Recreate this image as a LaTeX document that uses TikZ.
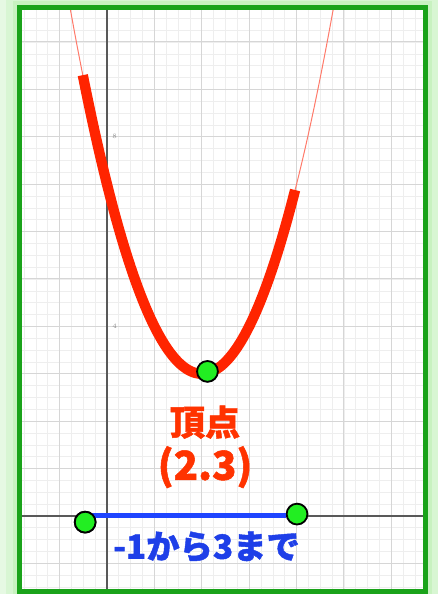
\documentclass[tikz,border=0pt]{standalone}
\usepackage{fontspec}
\usepackage{xcolor}
\newfontfamily\jpfont{Noto Sans CJK JP}[BoldFeatures={FakeBold=1.3}]
\usetikzlibrary{positioning}

\definecolor{framegreen}{HTML}{1AA31A}
\definecolor{glowgreen}{HTML}{C8F2C0}
\definecolor{dotgreen}{HTML}{22EE22}
\definecolor{majgray}{HTML}{D6D6D6}
\definecolor{mingray}{HTML}{EEEEEE}
\definecolor{curvered}{HTML}{FF2400}
\definecolor{thinred}{HTML}{FF7A6A}
\definecolor{labelred}{HTML}{FF3300}
\definecolor{segblue}{HTML}{1F45FF}
\definecolor{labelblue}{HTML}{1E3FE8}

\begin{document}
\begin{tikzpicture}[x=1cm,y=1cm,
	dot/.style={circle,draw=black,line width=1.1pt,fill=dotgreen,inner sep=0pt,minimum size=12.5pt},
	thickcurve/.style={curvered,line width=6.2pt,line cap=butt},
	thincurve/.style={thinred,line width=0.6pt},
	segline/.style={segblue,line width=3pt},
	axisline/.style={black!65,line width=0.9pt},
	ticklbl/.style={text=black!45,font=\fontsize{4}{4}\selectfont,inner sep=0pt}]
	\useasboundingbox (-2.257,-1.646) rectangle (6.983,10.886);
	% glow round the frame
	\fill[glowgreen!45] (-2.257,-1.646) rectangle (6.983,10.886);
	\draw[glowgreen!70,line width=16pt] (-1.846,-1.593) rectangle (6.72,10.728);
	\draw[glowgreen,line width=8pt] (-1.846,-1.593) rectangle (6.72,10.728);
	\fill[white] (-1.846,-1.593) rectangle (6.72,10.728);

	\begin{scope}
		\clip (-1.846,-1.593) rectangle (6.72,10.728);
		\draw[mingray,line width=0.4pt] (-2,-2) grid[step=0.25] (7,11);
		\draw[majgray,line width=0.6pt] (-2,-2) grid[step=1] (7,11);
		\draw[axisline] (-2,0) -- (7,0);
		\draw[axisline] (0,-2) -- (0,11);
		\draw[thincurve] plot[domain=-0.9:4.9,samples=90] (\x,{(\x-2)^2+3});
	\end{scope}
	\node[ticklbl] (t8) at (0.16,8) {8};
	\node[ticklbl] (t4) at (0.16,4) {4};

	\draw[thickcurve] plot[domain=-0.51:3.97,samples=90] (\x,{(\x-2)^2+3});
	\draw[framegreen,line width=3pt] (-1.846,-1.593) rectangle (6.72,10.728);

	%\node[dot] (vtx) at (2,3) {};
	\node[dot] (vtx) at (2.12,3.05) {};
	\node[text=labelred,font=\jpfont\bfseries\fontsize{21}{24}\selectfont] (name) at (2.07,1.98) {頂点};
	\node[text=labelred,font=\jpfont\bfseries\fontsize{24}{26}\selectfont] (xy) at (2.07,1.03) {(2.3)};

	\node[dot] (lft) at (-0.46,-0.13) {};
	\node[dot] (rgt) at (4.01,0.04) {};
	\draw[segline] (lft.center |- 0,0.01) -- (rgt.west |- 0,0.01);
	\node[dot] at (lft) {};
	\node[text=labelblue,font=\jpfont\bfseries\fontsize{20}{22}\selectfont] (range) at (2.10,-0.65) {-1から3まで};
\end{tikzpicture}
\end{document}
